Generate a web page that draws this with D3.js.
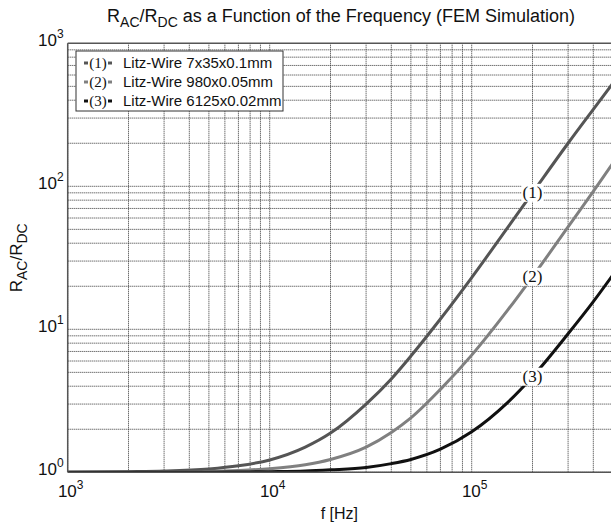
<!DOCTYPE html>
<html><head><meta charset="utf-8">
<script src="https://cdn.jsdelivr.net/npm/d3@7"></script>
<style>body{margin:0;background:#fff}svg{display:block}</style>
</head><body>
<svg id="c" width="611" height="524"></svg>
<script>
// ---- data ----
const freqs = [1e3, 2e3, 3e3, 5e3, 7e3, 1e4, 1.5e4, 2e4, 3e4, 4e4, 5e4, 7e4, 1e5, 1.5e5, 2e5, 3e5, 4e5, 5e5];
const wire1 = [1.00, 1.01, 1.02, 1.055, 1.11, 1.22, 1.5, 1.88, 3.0, 4.5, 6.5, 11.8, 23, 51, 90, 200, 345, 525];
const wire2 = [1.00, 1.00, 1.005, 1.014, 1.03, 1.06, 1.13, 1.23, 1.5, 1.9, 2.4, 3.8, 6.6, 13.5, 23.3, 52, 92, 145];
const wire3 = [1.00, 1.00, 1.00, 1.00, 1.005, 1.01, 1.02, 1.04, 1.08, 1.15, 1.23, 1.45, 1.92, 3.06, 4.66, 9.3, 15.6, 24];
const seriesNames = ["Litz-Wire 7x35x0.1mm", "Litz-Wire 980x0.05mm", "Litz-Wire 6125x0.02mm"];
const seriesTags = ["(1)", "(2)", "(3)"];
const tagFreq = 2e5;
const xTickExps = [3, 4, 5];
const yTickExps = [0, 1, 2, 3];
const seriesColors = ["#555555", "#808080", "#111111"];

const svg = d3.select("#c");
const L = 67.7, T = 43.3, B = 472.3;
const x = d3.scaleLog().domain([1e3, 5e5]).range([L, L + 202 * Math.log10(500)]);
const y = d3.scaleLog().domain([1, 1000]).range([B, T]);
const R = 611;

svg.append("defs").append("clipPath").attr("id", "clip")
  .append("rect").attr("x", L).attr("y", T).attr("width", R - L).attr("height", B - T);

const sans = "'Liberation Sans', Arial, Helvetica, sans-serif";
const serif = "'Liberation Serif', 'Times New Roman', serif";

// grid
const g = svg.append("g").attr("clip-path", "url(#clip)");
const xGrid = [];
for (let e = 3; e <= 5; e++) for (let m = 1; m <= 9; m++) { const v = m * Math.pow(10, e); if (v <= 5e5) xGrid.push(v); }
const yGrid = [];
for (let e = 0; e <= 2; e++) for (let m = 1; m <= 9; m++) yGrid.push(m * Math.pow(10, e));
yGrid.push(1000);
g.selectAll(".vg").data(xGrid).join("line")
  .attr("x1", d => x(d)).attr("x2", d => x(d)).attr("y1", T).attr("y2", B)
  .attr("stroke", "#333").attr("stroke-width", 1).attr("stroke-dasharray", "1,1");
g.selectAll(".hg").data(yGrid).join("line")
  .attr("y1", d => y(d)).attr("y2", d => y(d)).attr("x1", L).attr("x2", R)
  .attr("stroke", "#333").attr("stroke-width", 1).attr("stroke-dasharray", "1,1");

// axes lines
svg.append("line").attr("x1", L).attr("x2", L).attr("y1", T).attr("y2", B).attr("stroke", "#555").attr("stroke-width", 1.5);
svg.append("line").attr("x1", L).attr("x2", R).attr("y1", B).attr("y2", B).attr("stroke", "#555").attr("stroke-width", 1.5);
svg.append("line").attr("x1", L).attr("x2", R).attr("y1", T).attr("y2", T).attr("stroke", "#555").attr("stroke-width", 1.5);

// curves
const series = [wire1, wire2, wire3];
const line = d3.line().x(d => x(d[0])).y(d => y(d[1])).curve(d3.curveMonotoneX);
series.forEach((s, i) => {
  g.append("path").datum(freqs.map((f, k) => [f, s[k]]))
    .attr("d", line).attr("fill", "none").attr("stroke", seriesColors[i]).attr("stroke-width", 3);
});

// curve tags
series.forEach((s, i) => {
  const k = freqs.indexOf(tagFreq);
  const cx = x(tagFreq), cy = y(s[k]);
  svg.append("rect").attr("x", cx - 11).attr("y", cy - 9).attr("width", 22).attr("height", 18).attr("fill", "#fff");
  svg.append("text").attr("x", cx).attr("y", cy + 5.5).attr("text-anchor", "middle")
    .attr("font-family", serif).attr("font-size", 17).attr("fill", "#111").text(seriesTags[i]);
});

// tick labels
function powLabel(sel, e) {
  sel.append("tspan").text("10");
  sel.append("tspan").attr("dy", -8).attr("font-size", 12).text(e);
}
xTickExps.forEach(e => {
  const t = svg.append("text").attr("x", x(Math.pow(10, e)) + 3).attr("y", 497).attr("text-anchor", "middle")
    .attr("font-family", sans).attr("font-size", 17).attr("fill", "#111");
  powLabel(t, e);
});
yTickExps.forEach(e => {
  const t = svg.append("text").attr("x", L - 4).attr("y", y(Math.pow(10, e)) + 3).attr("text-anchor", "end")
    .attr("font-family", sans).attr("font-size", 17).attr("fill", "#111");
  powLabel(t, e);
});

// axis titles
svg.append("text").attr("x", (L + R) / 2).attr("y", 519).attr("text-anchor", "middle")
  .attr("font-family", sans).attr("font-size", 16).attr("fill", "#111").text("f [Hz]");
const yl = svg.append("text").attr("transform", `translate(22,${(T + B) / 2}) rotate(-90)`).attr("text-anchor", "middle")
  .attr("font-family", sans).attr("font-size", 17).attr("fill", "#111");
yl.append("tspan").text("R");
yl.append("tspan").attr("dy", 5).attr("font-size", 14).text("AC");
yl.append("tspan").attr("dy", -5).text("/R");
yl.append("tspan").attr("dy", 5).attr("font-size", 14).text("DC");

// title
const tt = svg.append("text").attr("x", 341).attr("y", 22).attr("text-anchor", "middle")
  .attr("font-family", sans).attr("font-size", 18).attr("fill", "#111");
tt.append("tspan").text("R");
tt.append("tspan").attr("dy", 5).attr("font-size", 14).text("AC");
tt.append("tspan").attr("dy", -5).text("/R");
tt.append("tspan").attr("dy", 5).attr("font-size", 14).text("DC");
tt.append("tspan").attr("dy", -5).text(" as a Function of the Frequency (FEM Simulation)");

// legend
const lg = svg.append("g");
lg.append("rect").attr("x", 76).attr("y", 51).attr("width", 207).attr("height", 60)
  .attr("fill", "#fff").attr("stroke", "#333").attr("stroke-width", 1);
seriesNames.forEach((n, i) => {
  const cy = 63 + i * 19;
  lg.append("line").attr("x1", 84).attr("x2", 88).attr("y1", cy).attr("y2", cy).attr("stroke", seriesColors[i]).attr("stroke-width", 3);
  lg.append("line").attr("x1", 108).attr("x2", 112).attr("y1", cy).attr("y2", cy).attr("stroke", seriesColors[i]).attr("stroke-width", 3);
  lg.append("text").attr("x", 98).attr("y", cy + 5).attr("text-anchor", "middle")
    .attr("font-family", serif).attr("font-size", 15).attr("fill", "#111").text(seriesTags[i]);
  lg.append("text").attr("x", 123).attr("y", cy + 5).attr("font-family", sans).attr("font-size", 15).attr("fill", "#111").text(n);
});
</script>
</body></html>
